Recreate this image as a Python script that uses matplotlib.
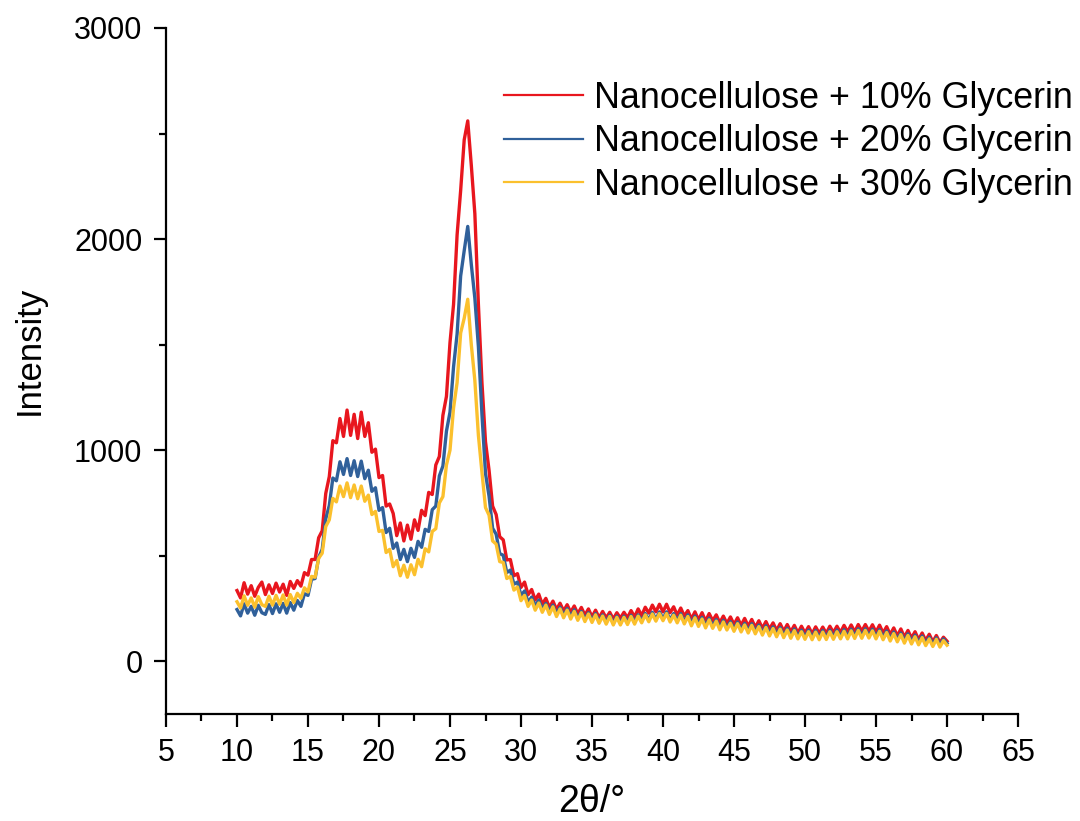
import numpy as np
import matplotlib
matplotlib.use("Agg")
import matplotlib.pyplot as plt
from matplotlib.ticker import MultipleLocator

# 2theta grid of the readings (0.25 deg steps, 10..60)
two_theta = np.arange(10, 60.001, 0.25)

# values, one row per degree (4 points each)
glyc_10 = [
    335, 300, 372, 318, 358, 308, 350, 375, 316, 362, 321, 370, 328, 365, 312, 378,
    345, 382, 356, 420, 408, 482, 482, 585, 618, 795, 875, 1045, 1035, 1150, 1065, 1190,
    1070, 1170, 1055, 1180, 1065, 1130, 990, 1005, 870, 880, 735, 745, 700, 595, 655, 570,
    645, 578, 670, 620, 715, 690, 800, 790, 930, 970, 1165, 1255, 1510, 1690, 2020, 2230,
    2470, 2560, 2350, 2120, 1690, 1320, 1040, 905, 735, 695, 590, 575, 480, 482, 405, 415,
    350, 375, 315, 340, 290, 318, 270, 298, 255, 285, 245, 275, 238, 268, 232, 262,
    225, 255, 218, 248, 210, 242, 206, 236, 205, 232, 200, 230, 204, 232, 206, 240,
    210, 248, 216, 256, 228, 266, 234, 270, 234, 270, 230, 258, 218, 252, 214, 240,
    200, 234, 196, 230, 190, 226, 192, 220, 182, 214, 179, 210, 174, 206, 170, 203,
    166, 198, 160, 192, 156, 188, 152, 182, 146, 178, 142, 174, 139, 170, 134, 166,
    134, 164, 130, 163, 132, 162, 132, 166, 136, 166, 136, 170, 139, 172, 139, 174,
    142, 174, 142, 173, 138, 171, 134, 164, 126, 158, 120, 153, 114, 146, 110, 140,
    102, 134, 98, 128, 92, 122, 88, 114, 95,
]
glyc_20 = [
    245, 215, 272, 228, 260, 218, 265, 230, 222, 268, 226, 272, 232, 274, 228, 278,
    242, 288, 260, 320, 312, 388, 392, 492, 530, 675, 738, 868, 855, 945, 885, 960,
    880, 950, 875, 948, 865, 905, 805, 822, 715, 728, 610, 630, 535, 560, 482, 530,
    472, 535, 492, 568, 540, 625, 615, 718, 735, 878, 925, 1090, 1180, 1395, 1550, 1825,
    1945, 2060, 1880, 1720, 1490, 1170, 890, 782, 630, 602, 510, 502, 420, 432, 365, 375,
    312, 333, 280, 304, 260, 290, 246, 274, 234, 266, 224, 256, 216, 250, 210, 244,
    202, 236, 197, 230, 192, 226, 188, 220, 184, 218, 180, 214, 180, 214, 182, 218,
    184, 220, 190, 226, 196, 232, 198, 234, 202, 234, 196, 226, 192, 226, 187, 220,
    178, 214, 175, 208, 168, 204, 166, 198, 159, 194, 158, 188, 152, 186, 149, 180,
    144, 178, 140, 172, 134, 168, 130, 163, 126, 160, 122, 156, 119, 153, 116, 148,
    114, 148, 112, 146, 112, 146, 113, 148, 114, 148, 116, 150, 117, 152, 118, 154,
    119, 154, 120, 152, 116, 150, 112, 144, 106, 139, 102, 134, 96, 130, 92, 124,
    87, 120, 84, 114, 79, 111, 76, 106, 85,
]
glyc_30 = [
    282, 252, 310, 265, 300, 256, 306, 268, 260, 308, 266, 312, 270, 314, 266, 316,
    278, 322, 298, 348, 328, 402, 398, 488, 512, 638, 670, 772, 755, 830, 780, 845,
    775, 835, 770, 830, 758, 787, 695, 710, 615, 620, 515, 530, 448, 477, 405, 455,
    398, 457, 410, 483, 448, 533, 518, 615, 628, 750, 780, 930, 1000, 1200, 1320, 1555,
    1625, 1715, 1500, 1330, 1070, 895, 728, 692, 570, 555, 472, 468, 392, 402, 337, 352,
    287, 312, 260, 290, 242, 276, 232, 266, 222, 258, 212, 248, 206, 242, 200, 236,
    194, 230, 188, 224, 184, 220, 180, 214, 176, 212, 172, 208, 172, 208, 174, 212,
    176, 214, 182, 220, 187, 224, 190, 226, 192, 226, 186, 218, 182, 218, 177, 212,
    168, 206, 165, 200, 158, 196, 156, 190, 149, 186, 148, 180, 142, 178, 139, 172,
    134, 170, 130, 164, 124, 160, 120, 155, 116, 152, 112, 148, 109, 145, 106, 140,
    104, 140, 102, 138, 102, 138, 103, 140, 104, 140, 106, 142, 106, 144, 108, 146,
    109, 146, 110, 144, 106, 142, 102, 136, 96, 131, 92, 126, 86, 122, 82, 116,
    78, 112, 74, 106, 70, 104, 67, 98, 76,
]

labels = ['Nanocellulose + 10% Glycerin',
          'Nanocellulose + 20% Glycerin',
          'Nanocellulose + 30% Glycerin']
colors = ['#e8161e', '#30609a', '#fbc02d']

plt.rcParams['font.family'] = ['Liberation Sans', 'DejaVu Sans']

fig = plt.figure(figsize=(10.8, 8.21), dpi=100)
ax = fig.add_axes([0.1537, 0.1303, 0.7889, 0.8356])

for ys, lab, c in zip([glyc_10, glyc_20, glyc_30], labels, colors):
    ax.plot(two_theta, ys, color=c, lw=2.4, label=lab)

ax.set_xlim(5, 65)
ax.set_ylim(-250, 3000)
ax.xaxis.set_major_locator(MultipleLocator(5))
ax.xaxis.set_minor_locator(MultipleLocator(2.5))
ax.yaxis.set_major_locator(MultipleLocator(1000))
ax.yaxis.set_minor_locator(MultipleLocator(500))

for side in ['top', 'right']:
    ax.spines[side].set_visible(False)
for side in ['left', 'bottom']:
    ax.spines[side].set_linewidth(1.6)

ax.tick_params(which='major', direction='out', length=9, width=1.6, labelsize=22, pad=8)
ax.tick_params(which='minor', direction='out', length=5, width=1.6)

ax.set_xlabel('2θ/°', fontsize=27, labelpad=12)
ax.set_ylabel('Intensity', fontsize=25, labelpad=20)
ax.yaxis.label.set_y(0.53)

leg = ax.legend(loc='upper right', bbox_to_anchor=(1.0065, 0.919),
                bbox_transform=fig.transFigure, frameon=False, fontsize=25.8,
                handlelength=2.2, handletextpad=0.3, labelspacing=0.24,
                borderaxespad=0)
for h in leg.get_lines():
    h.set_linewidth(1.6)

fig.savefig('out.png', dpi=100)
